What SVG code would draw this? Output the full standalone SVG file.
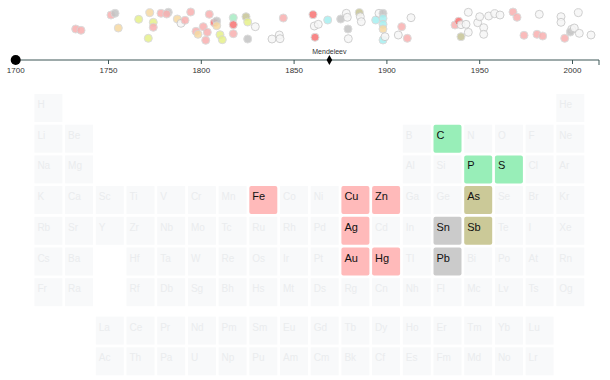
<svg xmlns="http://www.w3.org/2000/svg" width="610" height="380" viewBox="0 0 610 380">
<style>
text{font-family:"Liberation Sans",Arial,sans-serif}
.ax{stroke:#3d5656;stroke-width:1;fill:none}
.tl{font-size:8px;fill:#333;text-anchor:middle}
.mk{font-size:7px;fill:#333;text-anchor:middle}
.d{stroke:#d6d6d6;stroke-width:1;opacity:0.85}
.pk{fill:#f8b0b0}
.rd{fill:#f77373}
.gy{fill:#c4c4c4}
.wh{fill:#f6f6f6;stroke:#c8c8c8}
.cy{fill:#a6eff0}
.yg{fill:#e6f08a}
.or{fill:#f6d9a2}
.kh{fill:#c6c496}
.gn{fill:#a8ecc4}
.g rect{fill:#f8f9fa}
.g text{font-size:10px;fill:#eaecee}
.t text{font-size:11px;fill:#111}
.pink rect{fill:#ffbaba}
.green rect{fill:#98eeb8}
.khaki rect{fill:#cbc998}
.grey rect{fill:#cbcbcb}
</style>
<g id="timeline">
<g id="dots">
<circle class="d pk" cx="75.7" cy="29" r="4"/><circle class="d pk" cx="81" cy="30.3" r="4"/><circle class="d pk" cx="111" cy="15" r="4"/><circle class="d gy" cx="115" cy="13.3" r="4"/><circle class="d or" cx="118.3" cy="28" r="4"/><circle class="d yg" cx="138.7" cy="19.3" r="4"/><circle class="d or" cx="149.7" cy="12.7" r="4"/><circle class="d yg" cx="148.3" cy="38.3" r="4"/><circle class="d yg" cx="153.3" cy="22.3" r="4"/><circle class="d pk" cx="153.3" cy="27.3" r="4"/><circle class="d pk" cx="161" cy="13.3" r="4"/><circle class="d gy" cx="168.3" cy="12.3" r="4"/><circle class="d pk" cx="166.7" cy="14" r="4"/><circle class="d or" cx="177.3" cy="19" r="4"/><circle class="d wh" cx="181" cy="23.3" r="4"/><circle class="d pk" cx="185" cy="20.3" r="4"/><circle class="d pk" cx="190.7" cy="12" r="4"/><circle class="d pk" cx="196" cy="31.3" r="4"/><circle class="d or" cx="198" cy="34.3" r="4"/><circle class="d pk" cx="203.3" cy="26.7" r="4"/><circle class="d pk" cx="207.3" cy="32.3" r="4"/><circle class="d pk" cx="205.7" cy="40.3" r="4"/><circle class="d pk" cx="209.3" cy="14.3" r="4"/><circle class="d rd" cx="214.3" cy="22.7" r="4"/><circle class="d gy" cx="216.7" cy="21" r="4"/><circle class="d or" cx="216.7" cy="25.7" r="4"/><circle class="d yg" cx="220" cy="34.7" r="4"/><circle class="d yg" cx="222.3" cy="39.7" r="4"/><circle class="d gn" cx="233.3" cy="17.7" r="4"/><circle class="d rd" cx="233.3" cy="24.7" r="4"/><circle class="d pk" cx="233.3" cy="33.7" r="4"/><circle class="d kh" cx="246" cy="16.7" r="4"/><circle class="d yg" cx="247.7" cy="22" r="4"/><circle class="d gy" cx="247.7" cy="39" r="4"/><circle class="d wh" cx="255.3" cy="26.7" r="4"/><circle class="d wh" cx="272" cy="39" r="4"/><circle class="d wh" cx="279.3" cy="35" r="4"/><circle class="d wh" cx="280" cy="38.7" r="4"/><circle class="d pk" cx="283.3" cy="18" r="4"/>
<circle class="d rd" cx="313" cy="14.7" r="4"/><circle class="d wh" cx="314.3" cy="26" r="4"/><circle class="d wh" cx="318.3" cy="24.3" r="4"/><circle class="d rd" cx="315" cy="37.3" r="4"/><circle class="d cy" cx="327.7" cy="20" r="4"/><circle class="d gy" cx="340.7" cy="19" r="4"/><circle class="d wh" cx="346.3" cy="13.3" r="4"/><circle class="d wh" cx="347.3" cy="17.3" r="4"/><circle class="d gy" cx="348" cy="29" r="4"/><circle class="d wh" cx="348.3" cy="38.7" r="4"/><circle class="d kh" cx="359.3" cy="12.7" r="4"/><circle class="d wh" cx="360.3" cy="16.7" r="4"/><circle class="d wh" cx="361.3" cy="21.7" r="4"/><circle class="d cy" cx="375.7" cy="20" r="4"/><circle class="d wh" cx="379" cy="13.3" r="4"/><circle class="d gy" cx="383" cy="13.3" r="4"/><circle class="d cy" cx="383" cy="18.3" r="4"/><circle class="d cy" cx="383" cy="24.3" r="4"/><circle class="d or" cx="383" cy="29" r="4"/><circle class="d cy" cx="383" cy="40" r="4"/><circle class="d wh" cx="385" cy="36.7" r="4"/><circle class="d wh" cx="398.3" cy="35" r="4"/><circle class="d pk" cx="401.7" cy="26.7" r="4"/><circle class="d pk" cx="407.3" cy="38.3" r="4"/><circle class="d wh" cx="411" cy="17.7" r="4"/><circle class="d pk" cx="455" cy="25" r="4"/><circle class="d rd" cx="458.7" cy="21.3" r="4"/><circle class="d wh" cx="461" cy="24.7" r="4"/><circle class="d wh" cx="466" cy="24.3" r="4"/><circle class="d kh" cx="461" cy="36.7" r="4"/><circle class="d wh" cx="468.3" cy="12.3" r="4"/><circle class="d wh" cx="468.3" cy="32.3" r="4"/><circle class="d wh" cx="477.7" cy="22.7" r="4"/><circle class="d wh" cx="479.7" cy="16.7" r="4"/><circle class="d wh" cx="483.7" cy="27.7" r="4"/><circle class="d wh" cx="483.7" cy="34.3" r="4"/><circle class="d wh" cx="488.7" cy="16" r="4"/><circle class="d wh" cx="494.7" cy="13.7" r="4"/><circle class="d wh" cx="500" cy="15" r="4"/><circle class="d pk" cx="513" cy="12" r="4"/><circle class="d pk" cx="517" cy="17.3" r="4"/><circle class="d pk" cx="524" cy="35.3" r="4"/><circle class="d wh" cx="539.3" cy="14.3" r="4"/><circle class="d pk" cx="537" cy="34.3" r="4"/><circle class="d pk" cx="542.7" cy="36" r="4"/><circle class="d wh" cx="561" cy="16.7" r="4"/><circle class="d wh" cx="561" cy="22.3" r="4"/><circle class="d pk" cx="564.7" cy="38.3" r="4"/><circle class="d wh" cx="571.7" cy="29.3" r="4"/><circle class="d gy" cx="570.3" cy="32" r="4"/><circle class="d wh" cx="574.3" cy="28" r="4"/><circle class="d wh" cx="578.3" cy="12.7" r="4"/><circle class="d wh" cx="579.3" cy="33.3" r="4"/><circle class="d wh" cx="591" cy="35" r="4"/>
</g>
<g id="axis">
<path class="ax" d="M15.7,60H599V65M108.5,60V64M201.3,60V64M294.1,60V64M386.9,60V64M479.7,60V64M572.5,60V64"/>
<text class="tl" x="15.7" y="73">1700</text><text class="tl" x="108.5" y="73">1750</text><text class="tl" x="201.3" y="73">1800</text><text class="tl" x="294.1" y="73">1850</text><text class="tl" x="386.9" y="73">1900</text><text class="tl" x="479.7" y="73">1950</text><text class="tl" x="572.5" y="73">2000</text>
<circle cx="15.7" cy="60" r="5" fill="#000"/>
</g>
<g id="mendeleev">
<polygon points="329.4,55 332.2,60 329.4,65 326.6,60" fill="#000"/>
<text class="mk" x="329.4" y="54">Mendeleev</text>
</g>
</g>
<g id="ghost-table" class="g">
<g transform="translate(34.4,94)"><rect width="28" height="28"/><text x="3" y="14">H</text></g>
<g transform="translate(556.3,94)"><rect width="28" height="28"/><text x="3" y="14">He</text></g>
<g transform="translate(34.4,124.7)"><rect width="28" height="28"/><text x="3" y="14">Li</text></g>
<g transform="translate(65.1,124.7)"><rect width="28" height="28"/><text x="3" y="14">Be</text></g>
<g transform="translate(402.8,124.7)"><rect width="28" height="28"/><text x="3" y="14">B</text></g>
<g transform="translate(464.2,124.7)"><rect width="28" height="28"/><text x="3" y="14">N</text></g>
<g transform="translate(494.9,124.7)"><rect width="28" height="28"/><text x="3" y="14">O</text></g>
<g transform="translate(525.6,124.7)"><rect width="28" height="28"/><text x="3" y="14">F</text></g>
<g transform="translate(556.3,124.7)"><rect width="28" height="28"/><text x="3" y="14">Ne</text></g>
<g transform="translate(34.4,155.4)"><rect width="28" height="28"/><text x="3" y="14">Na</text></g>
<g transform="translate(65.1,155.4)"><rect width="28" height="28"/><text x="3" y="14">Mg</text></g>
<g transform="translate(402.8,155.4)"><rect width="28" height="28"/><text x="3" y="14">Al</text></g>
<g transform="translate(433.5,155.4)"><rect width="28" height="28"/><text x="3" y="14">Si</text></g>
<g transform="translate(525.6,155.4)"><rect width="28" height="28"/><text x="3" y="14">Cl</text></g>
<g transform="translate(556.3,155.4)"><rect width="28" height="28"/><text x="3" y="14">Ar</text></g>
<g transform="translate(34.4,186.1)"><rect width="28" height="28"/><text x="3" y="14">K</text></g>
<g transform="translate(65.1,186.1)"><rect width="28" height="28"/><text x="3" y="14">Ca</text></g>
<g transform="translate(95.8,186.1)"><rect width="28" height="28"/><text x="3" y="14">Sc</text></g>
<g transform="translate(126.5,186.1)"><rect width="28" height="28"/><text x="3" y="14">Ti</text></g>
<g transform="translate(157.2,186.1)"><rect width="28" height="28"/><text x="3" y="14">V</text></g>
<g transform="translate(187.9,186.1)"><rect width="28" height="28"/><text x="3" y="14">Cr</text></g>
<g transform="translate(218.6,186.1)"><rect width="28" height="28"/><text x="3" y="14">Mn</text></g>
<g transform="translate(280,186.1)"><rect width="28" height="28"/><text x="3" y="14">Co</text></g>
<g transform="translate(310.7,186.1)"><rect width="28" height="28"/><text x="3" y="14">Ni</text></g>
<g transform="translate(402.8,186.1)"><rect width="28" height="28"/><text x="3" y="14">Ga</text></g>
<g transform="translate(433.5,186.1)"><rect width="28" height="28"/><text x="3" y="14">Ge</text></g>
<g transform="translate(494.9,186.1)"><rect width="28" height="28"/><text x="3" y="14">Se</text></g>
<g transform="translate(525.6,186.1)"><rect width="28" height="28"/><text x="3" y="14">Br</text></g>
<g transform="translate(556.3,186.1)"><rect width="28" height="28"/><text x="3" y="14">Kr</text></g>
<g transform="translate(34.4,216.8)"><rect width="28" height="28"/><text x="3" y="14">Rb</text></g>
<g transform="translate(65.1,216.8)"><rect width="28" height="28"/><text x="3" y="14">Sr</text></g>
<g transform="translate(95.8,216.8)"><rect width="28" height="28"/><text x="3" y="14">Y</text></g>
<g transform="translate(126.5,216.8)"><rect width="28" height="28"/><text x="3" y="14">Zr</text></g>
<g transform="translate(157.2,216.8)"><rect width="28" height="28"/><text x="3" y="14">Nb</text></g>
<g transform="translate(187.9,216.8)"><rect width="28" height="28"/><text x="3" y="14">Mo</text></g>
<g transform="translate(218.6,216.8)"><rect width="28" height="28"/><text x="3" y="14">Tc</text></g>
<g transform="translate(249.3,216.8)"><rect width="28" height="28"/><text x="3" y="14">Ru</text></g>
<g transform="translate(280,216.8)"><rect width="28" height="28"/><text x="3" y="14">Rh</text></g>
<g transform="translate(310.7,216.8)"><rect width="28" height="28"/><text x="3" y="14">Pd</text></g>
<g transform="translate(372.1,216.8)"><rect width="28" height="28"/><text x="3" y="14">Cd</text></g>
<g transform="translate(402.8,216.8)"><rect width="28" height="28"/><text x="3" y="14">In</text></g>
<g transform="translate(494.9,216.8)"><rect width="28" height="28"/><text x="3" y="14">Te</text></g>
<g transform="translate(525.6,216.8)"><rect width="28" height="28"/><text x="3" y="14">I</text></g>
<g transform="translate(556.3,216.8)"><rect width="28" height="28"/><text x="3" y="14">Xe</text></g>
<g transform="translate(34.4,247.5)"><rect width="28" height="28"/><text x="3" y="14">Cs</text></g>
<g transform="translate(65.1,247.5)"><rect width="28" height="28"/><text x="3" y="14">Ba</text></g>
<g transform="translate(126.5,247.5)"><rect width="28" height="28"/><text x="3" y="14">Hf</text></g>
<g transform="translate(157.2,247.5)"><rect width="28" height="28"/><text x="3" y="14">Ta</text></g>
<g transform="translate(187.9,247.5)"><rect width="28" height="28"/><text x="3" y="14">W</text></g>
<g transform="translate(218.6,247.5)"><rect width="28" height="28"/><text x="3" y="14">Re</text></g>
<g transform="translate(249.3,247.5)"><rect width="28" height="28"/><text x="3" y="14">Os</text></g>
<g transform="translate(280,247.5)"><rect width="28" height="28"/><text x="3" y="14">Ir</text></g>
<g transform="translate(310.7,247.5)"><rect width="28" height="28"/><text x="3" y="14">Pt</text></g>
<g transform="translate(402.8,247.5)"><rect width="28" height="28"/><text x="3" y="14">Tl</text></g>
<g transform="translate(464.2,247.5)"><rect width="28" height="28"/><text x="3" y="14">Bi</text></g>
<g transform="translate(494.9,247.5)"><rect width="28" height="28"/><text x="3" y="14">Po</text></g>
<g transform="translate(525.6,247.5)"><rect width="28" height="28"/><text x="3" y="14">At</text></g>
<g transform="translate(556.3,247.5)"><rect width="28" height="28"/><text x="3" y="14">Rn</text></g>
<g transform="translate(34.4,278.2)"><rect width="28" height="28"/><text x="3" y="14">Fr</text></g>
<g transform="translate(65.1,278.2)"><rect width="28" height="28"/><text x="3" y="14">Ra</text></g>
<g transform="translate(126.5,278.2)"><rect width="28" height="28"/><text x="3" y="14">Rf</text></g>
<g transform="translate(157.2,278.2)"><rect width="28" height="28"/><text x="3" y="14">Db</text></g>
<g transform="translate(187.9,278.2)"><rect width="28" height="28"/><text x="3" y="14">Sg</text></g>
<g transform="translate(218.6,278.2)"><rect width="28" height="28"/><text x="3" y="14">Bh</text></g>
<g transform="translate(249.3,278.2)"><rect width="28" height="28"/><text x="3" y="14">Hs</text></g>
<g transform="translate(280,278.2)"><rect width="28" height="28"/><text x="3" y="14">Mt</text></g>
<g transform="translate(310.7,278.2)"><rect width="28" height="28"/><text x="3" y="14">Ds</text></g>
<g transform="translate(341.4,278.2)"><rect width="28" height="28"/><text x="3" y="14">Rg</text></g>
<g transform="translate(372.1,278.2)"><rect width="28" height="28"/><text x="3" y="14">Cn</text></g>
<g transform="translate(402.8,278.2)"><rect width="28" height="28"/><text x="3" y="14">Nh</text></g>
<g transform="translate(433.5,278.2)"><rect width="28" height="28"/><text x="3" y="14">Fl</text></g>
<g transform="translate(464.2,278.2)"><rect width="28" height="28"/><text x="3" y="14">Mc</text></g>
<g transform="translate(494.9,278.2)"><rect width="28" height="28"/><text x="3" y="14">Lv</text></g>
<g transform="translate(525.6,278.2)"><rect width="28" height="28"/><text x="3" y="14">Ts</text></g>
<g transform="translate(556.3,278.2)"><rect width="28" height="28"/><text x="3" y="14">Og</text></g>
<g transform="translate(95.8,316.6)"><rect width="28" height="28"/><text x="3" y="14">La</text></g>
<g transform="translate(126.5,316.6)"><rect width="28" height="28"/><text x="3" y="14">Ce</text></g>
<g transform="translate(157.2,316.6)"><rect width="28" height="28"/><text x="3" y="14">Pr</text></g>
<g transform="translate(187.9,316.6)"><rect width="28" height="28"/><text x="3" y="14">Nd</text></g>
<g transform="translate(218.6,316.6)"><rect width="28" height="28"/><text x="3" y="14">Pm</text></g>
<g transform="translate(249.3,316.6)"><rect width="28" height="28"/><text x="3" y="14">Sm</text></g>
<g transform="translate(280,316.6)"><rect width="28" height="28"/><text x="3" y="14">Eu</text></g>
<g transform="translate(310.7,316.6)"><rect width="28" height="28"/><text x="3" y="14">Gd</text></g>
<g transform="translate(341.4,316.6)"><rect width="28" height="28"/><text x="3" y="14">Tb</text></g>
<g transform="translate(372.1,316.6)"><rect width="28" height="28"/><text x="3" y="14">Dy</text></g>
<g transform="translate(402.8,316.6)"><rect width="28" height="28"/><text x="3" y="14">Ho</text></g>
<g transform="translate(433.5,316.6)"><rect width="28" height="28"/><text x="3" y="14">Er</text></g>
<g transform="translate(464.2,316.6)"><rect width="28" height="28"/><text x="3" y="14">Tm</text></g>
<g transform="translate(494.9,316.6)"><rect width="28" height="28"/><text x="3" y="14">Yb</text></g>
<g transform="translate(525.6,316.6)"><rect width="28" height="28"/><text x="3" y="14">Lu</text></g>
<g transform="translate(95.8,347.3)"><rect width="28" height="28"/><text x="3" y="14">Ac</text></g>
<g transform="translate(126.5,347.3)"><rect width="28" height="28"/><text x="3" y="14">Th</text></g>
<g transform="translate(157.2,347.3)"><rect width="28" height="28"/><text x="3" y="14">Pa</text></g>
<g transform="translate(187.9,347.3)"><rect width="28" height="28"/><text x="3" y="14">U</text></g>
<g transform="translate(218.6,347.3)"><rect width="28" height="28"/><text x="3" y="14">Np</text></g>
<g transform="translate(249.3,347.3)"><rect width="28" height="28"/><text x="3" y="14">Pu</text></g>
<g transform="translate(280,347.3)"><rect width="28" height="28"/><text x="3" y="14">Am</text></g>
<g transform="translate(310.7,347.3)"><rect width="28" height="28"/><text x="3" y="14">Cm</text></g>
<g transform="translate(341.4,347.3)"><rect width="28" height="28"/><text x="3" y="14">Bk</text></g>
<g transform="translate(372.1,347.3)"><rect width="28" height="28"/><text x="3" y="14">Cf</text></g>
<g transform="translate(402.8,347.3)"><rect width="28" height="28"/><text x="3" y="14">Es</text></g>
<g transform="translate(433.5,347.3)"><rect width="28" height="28"/><text x="3" y="14">Fm</text></g>
<g transform="translate(464.2,347.3)"><rect width="28" height="28"/><text x="3" y="14">Md</text></g>
<g transform="translate(494.9,347.3)"><rect width="28" height="28"/><text x="3" y="14">No</text></g>
<g transform="translate(525.6,347.3)"><rect width="28" height="28"/><text x="3" y="14">Lr</text></g>
</g>
<g id="el-C" class="t green" transform="translate(433.5,124.7)"><rect width="28" height="28" rx="2"/><text x="3" y="14">C</text></g>
<g id="el-P" class="t green" transform="translate(464.2,155.4)"><rect width="28" height="28" rx="2"/><text x="3" y="14">P</text></g>
<g id="el-S" class="t green" transform="translate(494.9,155.4)"><rect width="28" height="28" rx="2"/><text x="3" y="14">S</text></g>
<g id="el-Fe" class="t pink" transform="translate(249.3,186.1)"><rect width="28" height="28" rx="2"/><text x="3" y="14">Fe</text></g>
<g id="el-Cu" class="t pink" transform="translate(341.4,186.1)"><rect width="28" height="28" rx="2"/><text x="3" y="14">Cu</text></g>
<g id="el-Zn" class="t pink" transform="translate(372.1,186.1)"><rect width="28" height="28" rx="2"/><text x="3" y="14">Zn</text></g>
<g id="el-As" class="t khaki" transform="translate(464.2,186.1)"><rect width="28" height="28" rx="2"/><text x="3" y="14">As</text></g>
<g id="el-Ag" class="t pink" transform="translate(341.4,216.8)"><rect width="28" height="28" rx="2"/><text x="3" y="14">Ag</text></g>
<g id="el-Sn" class="t grey" transform="translate(433.5,216.8)"><rect width="28" height="28" rx="2"/><text x="3" y="14">Sn</text></g>
<g id="el-Sb" class="t khaki" transform="translate(464.2,216.8)"><rect width="28" height="28" rx="2"/><text x="3" y="14">Sb</text></g>
<g id="el-Au" class="t pink" transform="translate(341.4,247.5)"><rect width="28" height="28" rx="2"/><text x="3" y="14">Au</text></g>
<g id="el-Hg" class="t pink" transform="translate(372.1,247.5)"><rect width="28" height="28" rx="2"/><text x="3" y="14">Hg</text></g>
<g id="el-Pb" class="t grey" transform="translate(433.5,247.5)"><rect width="28" height="28" rx="2"/><text x="3" y="14">Pb</text></g>
</svg>
